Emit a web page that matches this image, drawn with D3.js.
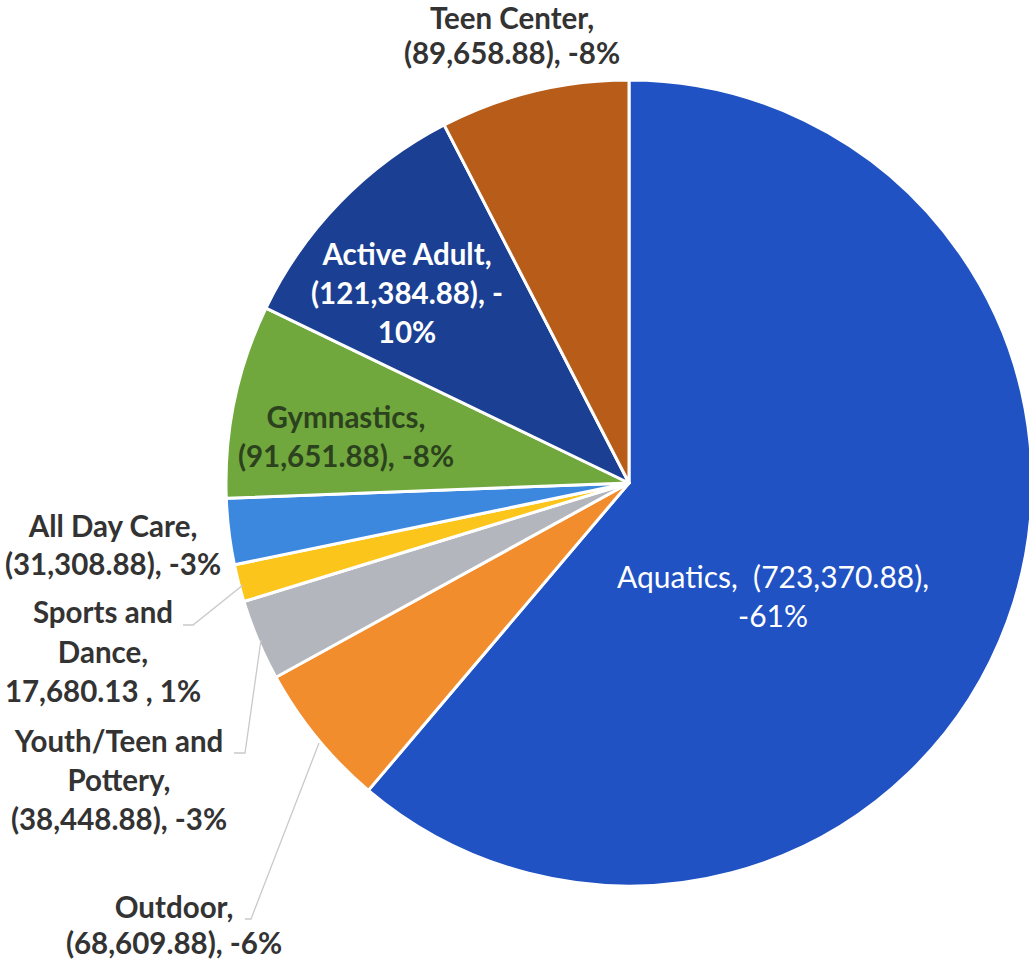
<!DOCTYPE html>
<html>
<head>
<meta charset="utf-8">
<script src="https://cdn.jsdelivr.net/npm/d3@7"></script>
<style>
  html, body { margin: 0; padding: 0; background: #ffffff; }
  svg { display: block; }
</style>
</head>
<body>
<svg id="chart" width="1029" height="967"></svg>
<script>
// Program budget variance by area, slices in clockwise order from 12 o'clock
const categories = ["Aquatics", "Outdoor", "Youth/Teen and Pottery", "Sports and Dance",
                    "All Day Care", "Gymnastics", "Active Adult", "Teen Center"];
const amounts = [-723370.88, -68609.88, -38448.88, 17680.13,
                 -31308.88, -91651.88, -121384.88, -89658.88];
const sliceColors = ["#2052c4", "#f28d2e", "#b3b6bc", "#fcc51c",
                     "#3c88df", "#71a83d", "#1b3f92", "#b85c1a"];

// Label placement and wrapping for each slice
const labelLayout = [
  { x: 773, y: 588, size: 30, weight: 400, fill: "#ffffff", mode: "aquatics", gap: 39 },
  { x: 174, y: 918, weight: 700, fill: "#333333", mode: "plain", nameLines: ["Outdoor,"], gap: 36,
    leader: [[245, 919], [251, 919], [319, 743]] },
  { x: 119, y: 752, weight: 700, fill: "#333333", mode: "plain", nameLines: ["Youth/Teen and", "Pottery,"], gap: 39,
    leader: [[234, 753], [245, 753], [261, 640]] },
  { x: 103, y: 623, weight: 700, fill: "#333333", mode: "plain", nameLines: ["Sports and", "Dance,"], gap: 39.5,
    leader: [[183, 625], [193, 625], [243, 585]] },
  { x: 113, y: 537, weight: 700, fill: "#333333", mode: "plain", nameLines: ["All Day Care,"], gap: 38 },
  { x: 346, y: 428, weight: 700, fill: "#2c421e", mode: "plain", nameLines: ["Gymnastics,"], gap: 39 },
  { x: 407, y: 265, weight: 700, fill: "#ffffff", mode: "signSplit", nameLines: ["Active Adult,"], gap: 39 },
  { x: 512, y: 29, weight: 700, fill: "#333333", mode: "plain", nameLines: ["Teen Center,"], gap: 34.5 }
];

const cx = 629, cy = 483, radius = 403;

const svg = d3.select("#chart");
const total = d3.sum(amounts, v => Math.abs(v));
const fmt = d3.format(",.2f");

const valueText = v => v < 0 ? `(${fmt(-v)})` : `${fmt(v)} `;
const pctNumber = v => Math.round(Math.abs(v) / total * 100);
const pctText = v => `${v < 0 ? "-" : ""}${pctNumber(v)}%`;

const slices = categories.map((name, i) => ({ name, value: amounts[i], color: sliceColors[i], layout: labelLayout[i] }));

const pie = d3.pie()
  .sort(null)
  .value(d => Math.abs(d.value))
  .startAngle(0)
  .endAngle(2 * Math.PI);

const arc = d3.arc().innerRadius(0).outerRadius(radius);

const g = svg.append("g").attr("transform", `translate(${cx},${cy})`);

g.selectAll("path.slice")
  .data(pie(slices))
  .join("path")
  .attr("class", "slice")
  .attr("d", arc)
  .attr("fill", d => d.data.color)
  .attr("stroke", "#ffffff")
  .attr("stroke-width", 3)
  .attr("stroke-linejoin", "round");

// Leader lines for the labels placed outside the pie
svg.selectAll("path.leader")
  .data(slices.filter(d => d.layout.leader))
  .join("path")
  .attr("class", "leader")
  .attr("d", d => d3.line()(d.layout.leader))
  .attr("fill", "none")
  .attr("stroke", "#c9c9c9")
  .attr("stroke-width", 1.3);

function labelLines(d) {
  const L = d.layout;
  const v = d.value;
  if (L.mode === "aquatics") {
    return [`${d.name},  ${valueText(v)},`, pctText(v)];
  }
  if (L.mode === "signSplit") {
    return [...L.nameLines, `${valueText(v)}, ${v < 0 ? "-" : ""}`, `${pctNumber(v)}%`];
  }
  return [...L.nameLines, `${valueText(v)}, ${pctText(v)}`];
}

const labels = svg.selectAll("text.label")
  .data(slices)
  .join("text")
  .attr("class", "label")
  .attr("x", d => d.layout.x)
  .attr("y", d => d.layout.y)
  .attr("text-anchor", "middle")
  .attr("font-family", "Lato, 'Open Sans', sans-serif")
  .attr("font-size", d => d.layout.size || 29.5)
  .attr("font-weight", d => d.layout.weight)
  .attr("fill", d => d.layout.fill)
  .style("white-space", "pre");

labels.selectAll("tspan")
  .data(d => labelLines(d).map((t, i) => ({ t, i, gap: d.layout.gap || 40, x: d.layout.x })))
  .join("tspan")
  .attr("x", s => s.x)
  .attr("dy", s => s.i === 0 ? 0 : s.gap)
  .text(s => s.t);
</script>
</body>
</html>
